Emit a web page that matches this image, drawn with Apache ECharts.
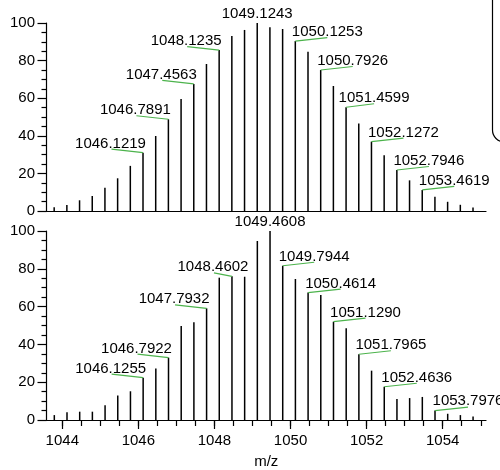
<!DOCTYPE html>
<html>
<head>
<meta charset="utf-8">
<script src="https://cdn.jsdelivr.net/npm/echarts@6/dist/echarts.min.js"></script>
<style>
html,body{margin:0;padding:0;background:#fff;}
#chart{width:500px;height:470px;}
</style>
</head>
<body>
<div id="chart"></div>
<script>
// ---- data ----
const xMin = 1043.585;
const xMax = 1055.138;
const xMajorTicks = [1044, 1046, 1048, 1050, 1052, 1054];
const xMinorTicks = [1044, 1044.5, 1045, 1045.5, 1046, 1046.5, 1047, 1047.5, 1048, 1048.5, 1049, 1049.5,
  1050, 1050.5, 1051, 1051.5, 1052, 1052.5, 1053, 1053.5, 1054, 1054.5, 1055];
const yTicks = [0, 20, 40, 60, 80, 100];

const topMz = [1043.7867, 1044.1203, 1044.4539, 1044.7875, 1045.1211, 1045.4547, 1045.7883, 1046.1219,
  1046.4555, 1046.7891, 1047.1227, 1047.4563, 1047.7899, 1048.1235, 1048.4571, 1048.7907, 1049.1243,
  1049.4580, 1049.7917, 1050.1253, 1050.4590, 1050.7926, 1051.1263, 1051.4599, 1051.7936, 1052.1272,
  1052.4609, 1052.7946, 1053.1282, 1053.4619, 1053.7956, 1054.1292, 1054.4629, 1054.7966];
const topIntensity = [2.0, 3.2, 5.7, 8.0, 12.4, 17.4, 24.0, 31.0, 39.9, 48.8, 59.6, 67.6, 78.2, 85.6,
  93.1, 96.3, 100, 97.7, 96.8, 90.4, 84.7, 75.0, 66.5, 55.2, 46.6, 36.9, 29.6, 21.8, 16.3, 11.2, 7.6,
  4.9, 3.3, 1.9];

const bottomMz = [1043.7903, 1044.1239, 1044.4575, 1044.7911, 1045.1247, 1045.4583, 1045.7919, 1046.1255,
  1046.4589, 1046.7922, 1047.1259, 1047.4596, 1047.7932, 1048.1267, 1048.4602, 1048.7937, 1049.1273,
  1049.4608, 1049.7944, 1050.1279, 1050.4614, 1050.7952, 1051.1290, 1051.4628, 1051.7965, 1052.1300,
  1052.4636, 1052.7971, 1053.1306, 1053.4641, 1053.7976, 1054.1311, 1054.4646, 1054.7981];
const bottomIntensity = [2.6, 4.1, 4.4, 4.4, 7.8, 12.9, 15.2, 22.4, 27.3, 33.0, 49.7, 51.7, 59.1, 75.3,
  76.0, 75.8, 94.7, 100, 81.6, 74.6, 67.4, 66.1, 52.0, 48.5, 34.8, 26.1, 17.6, 11.1, 11.6, 12.2, 5.0,
  3.3, 2.6, 1.8];

const topLabelMz = [1046.1219, 1046.7891, 1047.4563, 1048.1235, 1049.1243, 1050.1253, 1050.7926,
  1051.4599, 1052.1272, 1052.7946, 1053.4619];
const bottomLabelMz = [1046.1255, 1046.7922, 1047.7932, 1048.4602, 1049.4608, 1049.7944, 1050.4614,
  1051.1290, 1051.7965, 1052.4636, 1053.7976];

// ---- layout / style (not data) ----
const topLabelDx = [-32.5, -33, -32.5, -33, 0, 32, 32, 28, 32, 32, 32];
const bottomLabelDx = [-32.5, -32, -32.5, -19, 0, 31.5, 32.5, 32, 32, 32.5, 33];
const FONT = '"Liberation Sans", Arial, Helvetica, sans-serif';
const GREEN = '#4cb34c';

function peakOf(mzArr, intArr, m) {
  let best = 0, bd = Infinity;
  for (let i = 0; i < mzArr.length; i++) {
    const d = Math.abs(mzArr[i] - m);
    if (d < bd) { bd = d; best = i; }
  }
  return intArr[best];
}

function stickSeries(mz, inten, idx) {
  return {
    type: 'custom',
    xAxisIndex: idx, yAxisIndex: idx,
    data: mz.map((m, i) => [m, inten[i]]),
    renderItem: function (params, api) {
      const x = api.value(0), y = api.value(1);
      const p0 = api.coord([x, 0]);
      const p1 = api.coord([x, y]);
      return {
        type: 'line',
        shape: { x1: p0[0], y1: p0[1], x2: p1[0], y2: p1[1] },
        style: { stroke: '#000', lineWidth: 1.5 }
      };
    },
    z: 3
  };
}

function labelSeries(labelMz, dxArr, mz, inten, idx) {
  return {
    type: 'custom',
    xAxisIndex: idx, yAxisIndex: idx,
    data: labelMz.map(m => [m, peakOf(mz, inten, m)]),
    renderItem: function (params, api) {
      const x = api.value(0), y = api.value(1);
      const p = api.coord([x, y]);
      const dx = dxArr[params.dataIndex];
      const baseY = p[1] - 4.5;
      const cx = p[0] + dx;
      const children = [{
        type: 'text',
        style: {
          text: labelMz[params.dataIndex].toFixed(4),
          x: cx, y: baseY - 4.7,
          align: 'center', verticalAlign: 'middle',
          font: '15px ' + FONT, fill: '#000'
        }
      }];
      if (dx !== 0) {
        children.push({
          type: 'line',
          shape: { x1: cx + (dx < 0 ? 1 : 0), y1: baseY + 1, x2: p[0], y2: p[1] },
          style: { stroke: GREEN, lineWidth: 1.2 }
        });
      }
      return { type: 'group', children: children };
    },
    z: 4
  };
}

const yAxisBase = (idx) => ({
  type: 'value', gridIndex: idx, min: 0, max: 100, interval: 20,
  axisLine: { show: true, lineStyle: { color: '#000', width: 1.2 } },
  axisTick: { show: true, length: 9, lineStyle: { color: '#000', width: 1.2 } },
  minorTick: { show: true, splitNumber: 4, length: 5, lineStyle: { color: '#000', width: 1.2 } },
  splitLine: { show: false },
  axisLabel: { color: '#000', fontSize: 15, fontFamily: FONT, margin: 11.5,
    customValues: yTicks, formatter: v => String(v) }
});

const option = {
  animation: false,
  backgroundColor: '#fff',
  grid: [
    { left: 46.5, right: 14, top: 23, height: 188 },
    { left: 46.5, right: 14, top: 231, height: 189 }
  ],
  xAxis: [
    { type: 'value', gridIndex: 0, min: xMin, max: xMax,
      axisLine: { show: true, onZero: false, lineStyle: { color: '#000', width: 1.2 } },
      axisTick: { show: false }, axisLabel: { show: false }, splitLine: { show: false } },
    { type: 'value', gridIndex: 1, min: xMin, max: xMax, position: 'bottom',
      axisLine: { show: true, onZero: false, lineStyle: { color: '#000', width: 1.2 } },
      axisTick: { show: true, length: 6, customValues: xMinorTicks, lineStyle: { color: '#000', width: 1.2 } },
      axisLabel: { show: false }, splitLine: { show: false } },
    { type: 'value', gridIndex: 1, min: xMin, max: xMax, position: 'bottom', offset: 0,
      axisLine: { show: false, onZero: false },
      axisTick: { show: true, length: 9, customValues: xMajorTicks, lineStyle: { color: '#000', width: 1.2 } },
      axisLabel: { show: true, customValues: xMajorTicks, color: '#000', fontSize: 15, fontFamily: FONT,
        margin: 13, formatter: v => String(v) },
      splitLine: { show: false },
      name: 'm/z', nameLocation: 'middle', nameGap: 34,
      nameTextStyle: { color: '#000', fontSize: 15, fontFamily: FONT } }
  ],
  yAxis: [yAxisBase(0), yAxisBase(1)],
  graphic: [{
    type: 'rect',
    shape: { x: 492.5, y: -40, width: 60, height: 182, r: 12 },
    style: { fill: 'none', stroke: '#000', lineWidth: 1.2 }
  }],
  series: [
    stickSeries(topMz, topIntensity, 0),
    labelSeries(topLabelMz, topLabelDx, topMz, topIntensity, 0),
    stickSeries(bottomMz, bottomIntensity, 1),
    labelSeries(bottomLabelMz, bottomLabelDx, bottomMz, bottomIntensity, 1)
  ]
};

const chart = echarts.init(document.getElementById('chart'), null, { renderer: 'canvas' });
chart.setOption(option);
</script>
</body>
</html>
